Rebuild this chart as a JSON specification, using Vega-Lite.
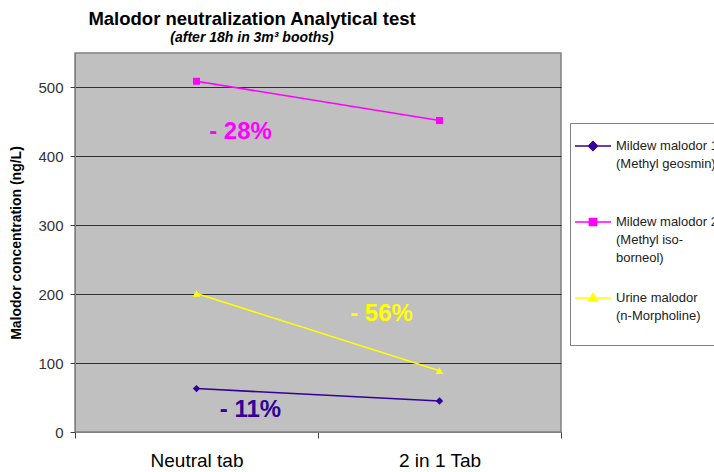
{
  "$schema": "https://vega.github.io/schema/vega-lite/v6.json",
  "autosize": "none",
  "width": 486,
  "height": 379,
  "padding": {"left": 75, "top": 53, "right": 153, "bottom": 40},
  "background": "white",
  "config": {
    "font": "Liberation Sans",
    "view": {"fill": "#C0C0C0", "stroke": "#808080", "strokeWidth": 1.5}
  },
  "title": {
    "text": "Malodor neutralization Analytical test",
    "subtitle": "(after 18h in 3m³ booths)",
    "anchor": "middle",
    "dx": -66,
    "fontSize": 18.5,
    "fontWeight": "bold",
    "color": "black",
    "subtitleFontSize": 14,
    "subtitleFontStyle": "italic",
    "subtitleFontWeight": "bold",
    "subtitleColor": "black",
    "subtitlePadding": 3,
    "offset": 8
  },
  "datasets": {
    "series": [
      {"tab": "Neutral tab", "series": "Mildew malodor 1", "conc": 63},
      {"tab": "2 in 1 Tab", "series": "Mildew malodor 1", "conc": 45},
      {"tab": "Neutral tab", "series": "Mildew malodor 2", "conc": 509},
      {"tab": "2 in 1 Tab", "series": "Mildew malodor 2", "conc": 452},
      {"tab": "Neutral tab", "series": "Urine malodor", "conc": 201},
      {"tab": "2 in 1 Tab", "series": "Urine malodor", "conc": 89}
    ],
    "notes": [
      {"tab": "Neutral tab", "series": "Mildew malodor 2", "conc": 436, "label": "- 28%"},
      {"tab": "2 in 1 Tab", "series": "Urine malodor", "conc": 171, "label": "- 56%"},
      {"tab": "Neutral tab", "series": "Mildew malodor 1", "conc": 32, "label": "- 11%"}
    ]
  },
  "encoding": {
    "x": {
      "field": "tab",
      "type": "nominal",
      "sort": ["Neutral tab", "2 in 1 Tab"],
      "scale": {"type": "band", "paddingInner": 0, "paddingOuter": 0},
      "axis": {
        "title": null,
        "labelAngle": 0,
        "tickBand": "extent",
        "labelFontSize": 19,
        "labelColor": "black",
        "labelPadding": 13,
        "tickSize": 6,
        "tickColor": "#404040",
        "domainColor": "#808080",
        "grid": false
      }
    },
    "y": {
      "field": "conc",
      "type": "quantitative",
      "scale": {"domain": [0, 550], "nice": false},
      "axis": {
        "values": [0, 100, 200, 300, 400, 500],
        "title": "Malodor concentration (ng/L)",
        "titleFontSize": 14,
        "titleFontWeight": "bold",
        "titleColor": "black",
        "titlePadding": 14,
        "labelFontSize": 15,
        "labelColor": "#333333",
        "labelPadding": 7,
        "tickSize": 5,
        "tickColor": "#404040",
        "gridColor": "#303030",
        "gridOpacity": 1,
        "gridWidth": 1.2,
        "domainColor": "#808080"
      }
    }
  },
  "layer": [
    {
      "data": {"name": "series"},
      "mark": {"type": "line", "strokeWidth": 1.5},
      "encoding": {
        "color": {
          "field": "series",
          "type": "nominal",
          "scale": {
            "domain": ["Mildew malodor 1", "Mildew malodor 2", "Urine malodor"],
            "range": ["#330099", "#FF00FF", "#FFFF00"]
          },
          "legend": {
            "orient": "none", "legendX": 495, "legendY": 70, "title": null,
            "labelExpr": "datum.label == 'Mildew malodor 1' ? ['Mildew  malodor 1', '(Methyl geosmin)', ''] : datum.label == 'Mildew malodor 2' ? ['Mildew malodor 2', '(Methyl iso-', 'borneol)'] : ['Urine malodor', '(n-Morpholine)', '']",
            "labelFontSize": 13, "labelColor": "#222222", "labelLimit": 300, "labelOffset": 4,
            "symbolSize": 1296, "symbolStrokeWidth": 1.5,
            "fillColor": "white", "strokeColor": "#808080", "padding": 4, "rowPadding": 14,
            "encode": {
              "labels": {"update": {"lineHeight": {"value": 18}}},
              "symbols": {
                "update": {
                  "shape": {"signal": "datum.value == 'Mildew malodor 1' ? 'M-1,0H1M0,-0.25L0.25,0L0,0.25L-0.25,0Z' : datum.value == 'Mildew malodor 2' ? 'M-1,0H1M-0.2,-0.2H0.2V0.2H-0.2Z' : 'M-1,0H1M0,-0.25L0.25,0.18L-0.25,0.18Z'"},
                  "fill": {"scale": "color", "field": "value"},
                  "stroke": {"scale": "color", "field": "value"},
                  "size": {"value": 1296},
                  "strokeWidth": {"value": 1.5},
                  "opacity": {"value": 1},
                  "fillOpacity": {"value": 1}
                }
              }
            }
          }
        }
      }
    },
    {
      "data": {"name": "series"},
      "transform": [{"filter": "datum.series == 'Mildew malodor 1'"}],
      "mark": {"type": "point", "filled": true, "opacity": 1, "size": 55, "shape": "diamond"},
      "encoding": {
        "color": {"field": "series", "type": "nominal", "legend": null}
      }
    },
    {
      "data": {"name": "series"},
      "transform": [{"filter": "datum.series == 'Mildew malodor 2'"}],
      "mark": {"type": "point", "filled": true, "opacity": 1, "size": 50, "shape": "square"},
      "encoding": {
        "color": {"field": "series", "type": "nominal", "legend": null}
      }
    },
    {
      "data": {"name": "series"},
      "transform": [{"filter": "datum.series == 'Urine malodor'"}],
      "mark": {"type": "point", "filled": true, "opacity": 1, "size": 60, "shape": "triangle-up"},
      "encoding": {
        "color": {"field": "series", "type": "nominal", "legend": null}
      }
    },
    {
      "data": {"name": "notes"},
      "transform": [{"filter": "datum.label == '- 28%'"}],
      "mark": {"type": "text", "fontSize": 24, "fontWeight": "bold", "dx": 44},
      "encoding": {
        "text": {"field": "label"},
        "color": {"field": "series", "type": "nominal", "legend": null}
      }
    },
    {
      "data": {"name": "notes"},
      "transform": [{"filter": "datum.label == '- 56%'"}],
      "mark": {"type": "text", "fontSize": 24, "fontWeight": "bold", "dx": -58},
      "encoding": {
        "text": {"field": "label"},
        "color": {"field": "series", "type": "nominal", "legend": null}
      }
    },
    {
      "data": {"name": "notes"},
      "transform": [{"filter": "datum.label == '- 11%'"}],
      "mark": {"type": "text", "fontSize": 24, "fontWeight": "bold", "dx": 54},
      "encoding": {
        "text": {"field": "label"},
        "color": {"field": "series", "type": "nominal", "legend": null}
      }
    }
  ]
}
